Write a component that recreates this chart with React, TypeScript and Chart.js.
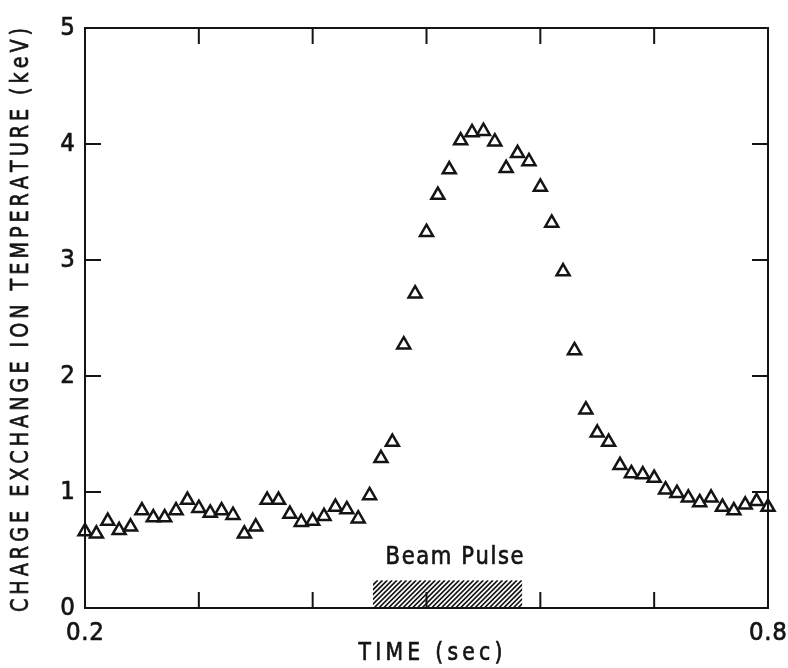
import { useEffect, useRef } from "react";
import { Chart, registerables } from "chart.js";

Chart.register(...registerables);

// Sample times (s) and charge-exchange ion temperature (keV)
const TIME_SEC = [
  0.2, 0.21, 0.22, 0.23, 0.24, 0.25, 0.26, 0.27, 0.28, 0.29,
  0.3, 0.31, 0.32, 0.33, 0.34, 0.35, 0.36, 0.37, 0.38, 0.39,
  0.4, 0.41, 0.42, 0.43, 0.44, 0.45, 0.46, 0.47, 0.48, 0.49,
  0.5, 0.51, 0.52, 0.53, 0.54, 0.55, 0.56, 0.57, 0.58, 0.59,
  0.6, 0.61, 0.62, 0.63, 0.64, 0.65, 0.66, 0.67, 0.68, 0.69,
  0.7, 0.71, 0.72, 0.73, 0.74, 0.75, 0.76, 0.77, 0.78, 0.79,
  0.8,
];
const ION_TEMP_KEV = [
  0.66, 0.64, 0.75, 0.67, 0.7, 0.84, 0.78, 0.78, 0.84, 0.93,
  0.86, 0.82, 0.84, 0.8, 0.64, 0.7, 0.93, 0.93, 0.81, 0.74,
  0.75, 0.79, 0.87, 0.85, 0.77, 0.97, 1.29, 1.43, 2.27, 2.71,
  3.24, 3.56, 3.78, 4.03, 4.1, 4.11, 4.02, 3.79, 3.92, 3.85,
  3.63, 3.32, 2.9, 2.22, 1.71, 1.51, 1.43, 1.23, 1.16, 1.15,
  1.12, 1.02, 0.99, 0.95, 0.91, 0.95, 0.87, 0.84, 0.89, 0.92,
  0.87,
];

// Axes
const X_RANGE = [0.2, 0.8];
const Y_RANGE = [0, 5];
const X_TICKS = [0.2, 0.3, 0.4, 0.5, 0.6, 0.7, 0.8];
const X_TICK_LABELS = ["0.2", "", "", "", "", "", "0.8"];
const Y_TICKS = [0, 1, 2, 3, 4, 5];
const Y_TICK_LABELS = ["0", "1", "2", "3", "4", "5"];
const X_TITLE = "TIME (sec)";
const Y_TITLE = "CHARGE EXCHANGE ION TEMPERATURE (keV)";

// Neutral beam injection window
const BEAM_SPAN = [0.453, 0.584];
const BEAM_HEIGHT = [0.24];
const BEAM_LABEL = "Beam Pulse";

const INK = "#141414";
const FONT = '"DejaVu Sans", "Liberation Sans", sans-serif';
const TICK_LEN = 16;

// Lettering: each glyph is narrowed by `squeeze`, then the glyphs are spread
// evenly so the string spans `width`, centred on cx. A light outline gives
// the strokes a little more weight.
function spacedText(
  ctx: CanvasRenderingContext2D,
  text: string,
  cx: number,
  cy: number,
  width: number,
  squeeze = 1
) {
  const chars = Array.from(text);
  const widths = chars.map((c) => ctx.measureText(c).width * squeeze);
  const natural = widths.reduce((a, b) => a + b, 0);
  const gap = chars.length > 1 ? (width - natural) / (chars.length - 1) : 0;
  let x = cx - width / 2;
  ctx.textAlign = "left";
  ctx.textBaseline = "middle";
  ctx.lineWidth = 0.7;
  ctx.lineJoin = "round";
  chars.forEach((c, i) => {
    ctx.save();
    ctx.translate(x, cy);
    ctx.scale(squeeze, 1);
    ctx.fillText(c, 0, 0);
    ctx.strokeText(c, 0, 0);
    ctx.restore();
    x += widths[i] + gap;
  });
}

const framePlugin = {
  id: "frame",
  beforeDatasetsDraw(chart: any) {
    const { ctx, scales } = chart;
    const xs = scales.x;
    const ys = scales.y;
    const x0 = xs.getPixelForValue(BEAM_SPAN[0]);
    const x1 = xs.getPixelForValue(BEAM_SPAN[1]);
    const yb = ys.getPixelForValue(0);
    const yt = ys.getPixelForValue(BEAM_HEIGHT[0]);
    const h = yb - yt;
    ctx.save();
    ctx.beginPath();
    ctx.rect(x0, yt, x1 - x0, h);
    ctx.clip();
    ctx.strokeStyle = INK;
    ctx.lineWidth = 1.7;
    ctx.beginPath();
    for (let s = x0 - h; s < x1 + 2; s += 4.8) {
      ctx.moveTo(s, yb);
      ctx.lineTo(s + h, yt);
    }
    ctx.stroke();
    ctx.restore();

    ctx.save();
    ctx.fillStyle = INK;
    ctx.strokeStyle = INK;
    ctx.font = `24px ${FONT}`;
    spacedText(ctx, BEAM_LABEL, (x0 + x1) / 2 + 7, yt - 22, 138, 0.88);
    ctx.restore();
  },
  afterDraw(chart: any) {
    const { ctx, scales, chartArea } = chart;
    const { left, right, top, bottom } = chartArea;
    const xs = scales.x;
    const ys = scales.y;
    ctx.save();
    ctx.strokeStyle = INK;
    ctx.lineWidth = 2;
    ctx.strokeRect(left, top, right - left, bottom - top);

    ctx.beginPath();
    X_TICKS.forEach((v) => {
      if (v === X_RANGE[0] || v === X_RANGE[1]) return;
      const px = xs.getPixelForValue(v);
      ctx.moveTo(px, bottom);
      ctx.lineTo(px, bottom - TICK_LEN);
      ctx.moveTo(px, top);
      ctx.lineTo(px, top + TICK_LEN);
    });
    Y_TICKS.forEach((v) => {
      if (v === Y_RANGE[0] || v === Y_RANGE[1]) return;
      const py = ys.getPixelForValue(v);
      ctx.moveTo(left, py);
      ctx.lineTo(left + TICK_LEN, py);
      ctx.moveTo(right, py);
      ctx.lineTo(right - TICK_LEN, py);
    });
    ctx.stroke();

    ctx.fillStyle = INK;
    ctx.font = `25px ${FONT}`;
    X_TICKS.forEach((v, i) => {
      const label = X_TICK_LABELS[i];
      if (!label) return;
      spacedText(ctx, label, xs.getPixelForValue(v), bottom + 25, 38, 0.92);
    });
    Y_TICKS.forEach((v, i) => {
      const label = Y_TICK_LABELS[i];
      const w = ctx.measureText(label).width * 0.92;
      spacedText(ctx, label, left - 10 - w / 2, ys.getPixelForValue(v), w, 0.92);
    });

    ctx.font = `24px ${FONT}`;
    spacedText(ctx, X_TITLE, (left + right) / 2 + 4, bottom + 46, 144, 0.85);

    ctx.translate(22, (top + bottom) / 2 + 2);
    ctx.rotate(-Math.PI / 2);
    ctx.font = `24px ${FONT}`;
    spacedText(ctx, Y_TITLE, 0, 0, 584, 0.8);
    ctx.restore();
  },
};

export default function App() {
  const canvasRef = useRef<HTMLCanvasElement | null>(null);

  useEffect(() => {
    const canvas = canvasRef.current;
    if (!canvas) return;
    const points = TIME_SEC.map((t, i) => ({ x: t, y: ION_TEMP_KEV[i] }));
    const chart = new Chart(canvas, {
      type: "scatter",
      data: {
        datasets: [
          {
            data: points,
            pointStyle: "triangle",
            pointRadius: 7.5,
            pointBorderWidth: 2.5,
            pointBorderColor: INK,
            pointBackgroundColor: "#ffffff",
            showLine: false,
            clip: false,
          } as any,
        ],
      },
      options: {
        responsive: false,
        animation: false,
        devicePixelRatio: 1,
        events: [],
        layout: { padding: { left: 85, right: 20, top: 28, bottom: 60 } },
        plugins: {
          legend: { display: false },
          tooltip: { enabled: false },
        },
        scales: {
          x: { type: "linear", min: X_RANGE[0], max: X_RANGE[1], display: false },
          y: { type: "linear", min: Y_RANGE[0], max: Y_RANGE[1], display: false },
        },
      },
      plugins: [framePlugin],
    });
    return () => chart.destroy();
  }, []);

  return (
    <div style={{ position: "absolute", left: 0, top: 0, width: 788, height: 668, background: "#fff" }}>
      <canvas ref={canvasRef} width={788} height={668} />
    </div>
  );
}
